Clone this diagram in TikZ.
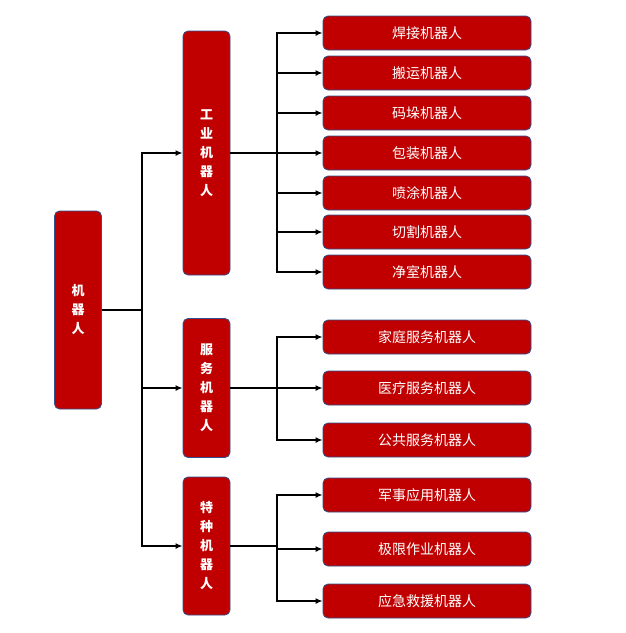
\documentclass[tikz,border=0pt]{standalone}
\usepackage{fontspec}
\newfontfamily\cjk{Noto Sans CJK SC}
\usetikzlibrary{arrows.meta}
\definecolor{boxred}{RGB}{192,0,0}
\definecolor{boxblue}{RGB}{47,82,143}
\begin{document}
\begin{tikzpicture}[
	x=1pt, y=-1pt,
	every node/.style={font=\cjk},
	redbox/.style={shape=rectangle, rounded corners=5pt, fill=boxred, draw=boxblue, text=white, thick},
	tallbox/.style={redbox, minimum width=47pt, align=center, font=\cjk\bfseries\fontsize{13}{19}\selectfont},
	leafbox/.style={redbox, minimum width=208pt, minimum height=34pt, font=\cjk\fontsize{14}{16}\selectfont},
	link/.style={line width=1.4pt, -{Latex[length=7pt,width=6pt]}},
]
\useasboundingbox (0,0) rectangle (625,633);
\node[tallbox, minimum height=198pt] (root) at (78,310) {机\\器\\人};
\node[tallbox, minimum height=244pt] (ind) at (206.5,153) {工\\业\\机\\器\\人};
\node[tallbox, minimum height=139pt] (srv) at (206.5,388) {服\\务\\机\\器\\人};
\node[tallbox, minimum height=138pt] (spc) at (206.5,546) {特\\种\\机\\器\\人};
% leaves
\foreach \name/\y/\txt in {i1/33/焊接机器人, i2/73/搬运机器人, i3/113/码垛机器人, i4/153/包装机器人, i5/193/喷涂机器人, i6/232/切割机器人, i7/272/净室机器人, s1/337/家庭服务机器人, s2/388/医疗服务机器人, s3/440/公共服务机器人, p1/495/军事应用机器人, p2/549/极限作业机器人, p3/601/应急救援机器人}
  \node[leafbox] (\name) at (427,\y) {\txt};
% root to groups
\coordinate (rb) at (142,310);
\draw[line width=1.4pt] (root.east) -- (rb);
\foreach \g in {ind,srv,spc}
  \draw[link] (rb) |- (\g.west);
% groups to leaves
\foreach \g/\list in {ind/{i1,i2,i3,i4,i5,i6,i7}, srv/{s1,s2,s3}, spc/{p1,p2,p3}} {
  \coordinate (\g bus) at (277,0 |- \g.east);
  \draw[line width=1.4pt] (\g.east) -- (\g bus);
  \foreach \l in \list
    \draw[link] (\g bus) |- (\l.west);
}
\end{tikzpicture}
\end{document}
